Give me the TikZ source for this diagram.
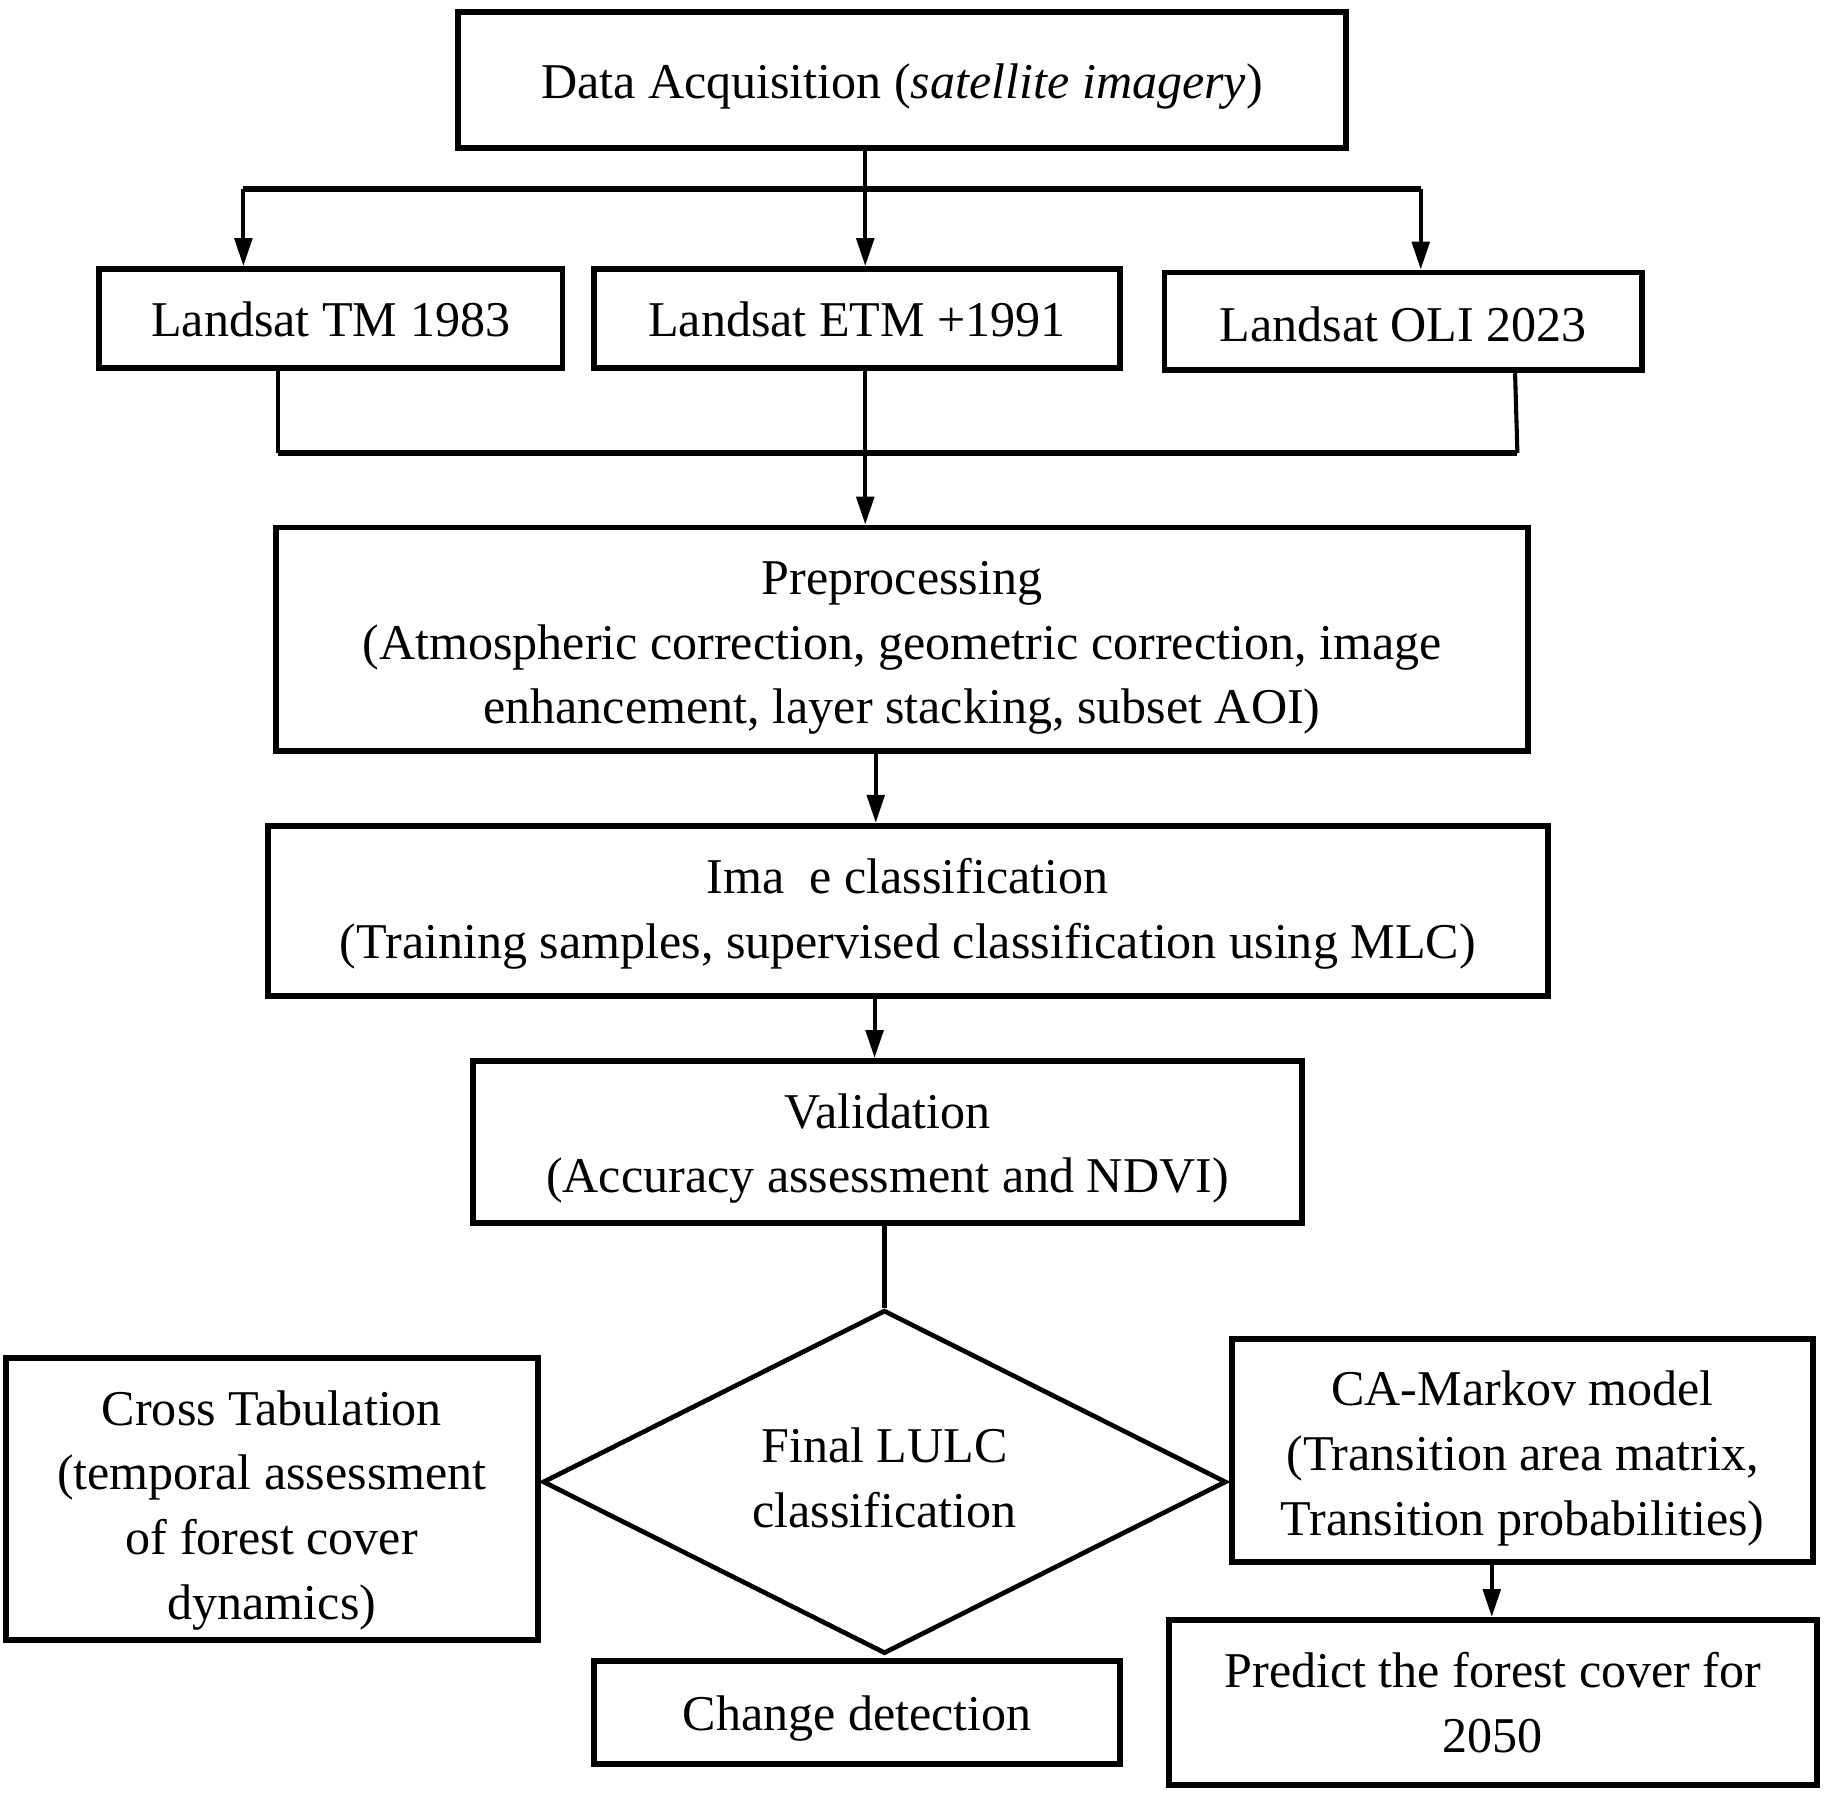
\documentclass[tikz,border=0pt]{standalone}
\usepackage{fontspec}
\setmainfont{Liberation Serif}
\usetikzlibrary{arrows.meta,shapes.geometric}
\newcommand\boxtext[2]{\raisebox{-#1pt}[\height][\depth]{\begin{tabular}{@{}c@{}}#2\end{tabular}}}
\begin{document}
\begin{tikzpicture}[x=1pt,y=-1pt,
  txt/.style={font=\fontsize{43}{55.5}\selectfont},
  box/.style={draw,line width=5pt,rectangle,inner sep=0pt,txt},
  conn/.style={line width=3.5pt},
  bar/.style={line width=5pt},
  arr/.style={conn,-{Triangle[width=15pt,length=24pt]}}]
\fill[white] (0,0) rectangle (1568,1543);
\useasboundingbox (0,0) rectangle (1568,1543);

\node[box,minimum width=763pt,minimum height=117pt] (acq) at (774.5,68.5)
  {\boxtext{5}{Data Acquisition (\textit{satellite imagery})}};
\node[box,minimum width=398pt,minimum height=85pt] (tm) at (284,273.5) {\boxtext{4}{Landsat TM 1983}};
\node[box,minimum width=452pt,minimum height=85pt] (etm) at (736,273.5) {\boxtext{4}{Landsat ETM +1991}};
\node[box,minimum width=410pt,minimum height=84pt] (oli) at (1205,276) {\boxtext{6}{Landsat OLI 2023}};
\node[box,minimum width=1075pt,minimum height=192pt] (pre) at (774.5,549)
  {\boxtext{6}{Preprocessing\\(Atmospheric correction, geometric correction, image\\enhancement, layer stacking, subset AOI)}};
\node[box,minimum width=1099pt,minimum height=146pt] (cls) at (779.5,782)
  {\boxtext{2}{Ima\hspace{0.5em}e classification\\(Training samples, supervised classification using MLC)}};
\node[box,minimum width=712pt,minimum height=139pt] (val) at (762,980.5)
  {\boxtext{5}{Validation\\(Accuracy assessment and NDVI)}};
\node[draw,diamond,aspect=2,line width=4pt,inner sep=0pt,txt,
  minimum width=587pt,minimum height=295pt] (fin) at (759.5,1272.5)
  {\boxtext{0}{Final LULC\\classification}};
\node[box,minimum width=457pt,minimum height=242pt] (cross) at (233.5,1287)
  {\boxtext{9}{Cross Tabulation\\(temporal assessment\\of forest cover\\dynamics)}};
\node[box,minimum width=499pt,minimum height=191pt] (ca) at (1307.5,1245.5)
  {\boxtext{6}{CA-Markov model\\(Transition area matrix,\\Transition probabilities)}};
\node[box,minimum width=556pt,minimum height=142pt] (pred) at (1282,1462)
  {\boxtext{4}{Predict the forest cover for\\2050}};
\node[box,minimum width=452pt,minimum height=89pt] (chg) at (736,1470.5) {\boxtext{4}{Change detection}};

% branching from data acquisition
\coordinate (jm) at (743,162);
\coordinate (jl) at (209,162);
\coordinate (jr) at (1220,162);
\draw[conn] (acq.south -| jm) -- (jm);
\draw[bar] (jl) -- (jr);
\draw[arr] (jl) -- (tm.north -| jl);
\draw[arr] (jm) -- (etm.north -| jm);
\draw[arr] (jr) -- (oli.north -| jr);

% merging into preprocessing
\coordinate (ml) at (239,389);
\coordinate (mm) at (743,389);
\coordinate (mr) at (1303,389);
\draw[conn] (tm.south -| ml) -- (ml);
\draw[conn] (oli.south -| 1301,0) -- (mr);
\draw[bar] (ml) -- (mr);
\draw[arr] (etm.south -| mm) -- (pre.north -| mm);

\draw[arr] (pre.south -| 752,0) -- (cls.north -| 752,0);
\draw[arr] (cls.south -| 751,0) -- (val.north -| 751,0);
\draw[conn] (val.south -| fin.north) -- (fin.north);
\draw[arr] (ca.south -| 1281,0) -- (pred.north -| 1281,0);
\end{tikzpicture}
\end{document}
